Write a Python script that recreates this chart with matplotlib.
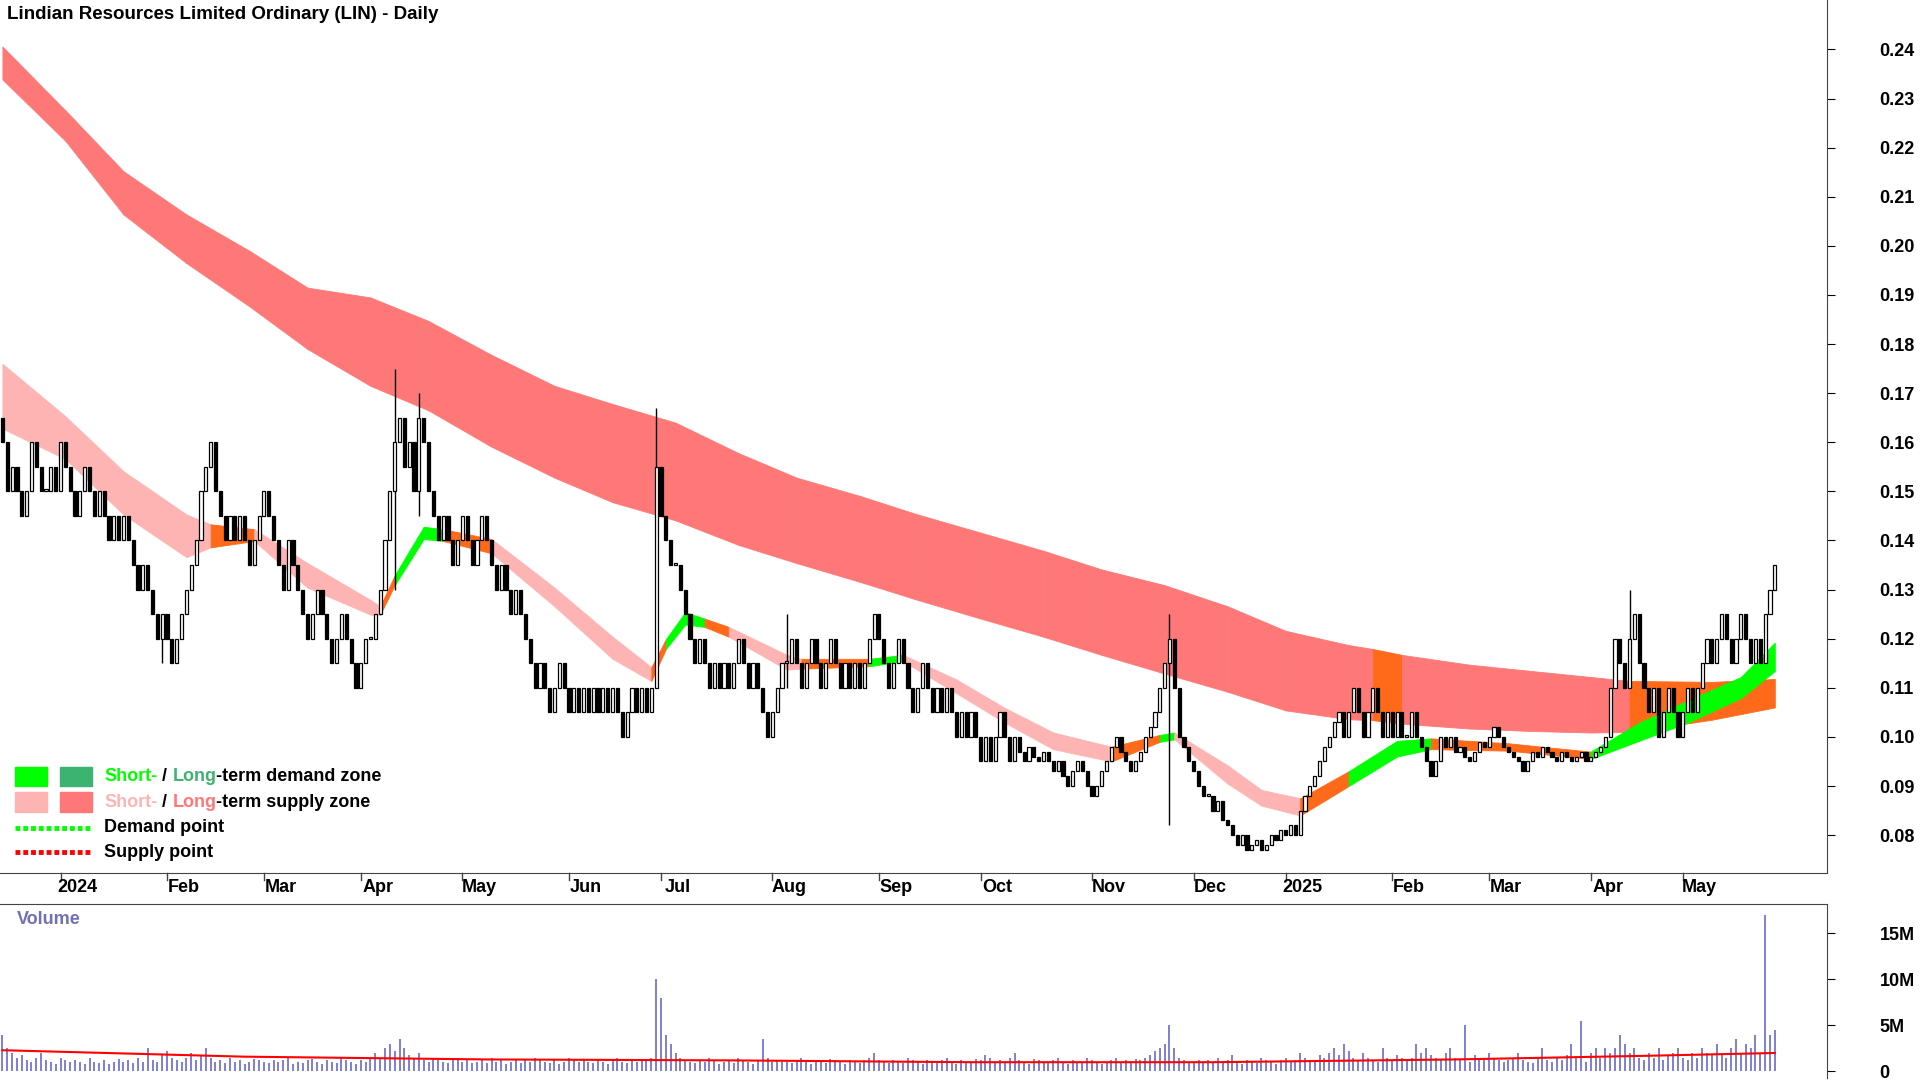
import matplotlib
matplotlib.use("Agg")
import matplotlib.pyplot as plt
import numpy as np

plt.rcParams["font.family"] = "Liberation Sans"

# closes in thousandths of a dollar, one list per month
closes_by_month = [
    [160, 150, 155, 150, 145, 150, 160, 155, 150, 150, 155, 150, 160, 155, 150],
    [145, 150, 155, 150, 145, 150, 145, 140, 145, 140, 145, 140, 135, 130, 135, 130, 125, 120, 125, 120, 115, 120],
    [125, 130, 135, 140, 150, 155, 160, 150, 145, 140, 145, 140, 145, 140, 135, 140, 145, 150, 145, 140],
    [135, 130, 140, 135, 130, 125, 120, 125, 130, 125, 120, 115, 120, 125, 120, 115, 110, 115, 120, 120],
    [125, 130, 140, 150, 160, 165, 155, 160, 150, 165, 160, 150, 145, 140, 145, 140, 135, 140, 145, 140, 135],
    [140, 145, 140, 135, 130, 135, 130, 125, 130, 125, 120, 115, 110, 115, 110, 105, 110, 115, 110, 105, 110, 105],
    [110, 105, 110, 105, 110, 105, 110, 105, 100, 105, 110, 105, 110, 105, 110, 155, 145, 140, 135],
    [135, 130, 125, 120, 115, 120, 115, 110, 115, 110, 115, 110, 115, 120, 115, 110, 115, 110, 105, 100, 105, 110, 115],
    [115, 120, 115, 110, 115, 120, 115, 110, 115, 120, 115, 110, 115, 110, 115, 110, 115, 120, 125, 120, 115, 110],
    [115, 120, 115, 110, 105, 110, 115, 110, 105, 110, 105, 110, 105, 100, 105, 100, 105, 100, 95, 100, 95],
    [100, 105, 100, 95, 100, 97, 95, 98, 96, 95, 97, 95, 93, 95, 92, 90, 93, 95, 93, 90, 88, 90, 93],
    [95, 98, 100, 97, 95, 93, 95, 97, 100, 102, 105, 110, 115, 120, 110, 100, 98, 95, 93, 90, 88],
    [88, 85, 87, 83, 82, 80, 78, 80, 77, 78, 79, 77, 78, 80, 79, 81, 80, 82, 80],
    [85, 88, 90, 92, 95, 98, 100, 103, 105, 100, 105, 110, 105, 100, 105, 110, 105, 100, 105, 100, 105, 100],
    [100, 105, 100, 98, 95, 92, 95, 100, 98, 100, 97, 98, 96, 95, 97, 99, 98, 100, 102, 100],
    [98, 97, 96, 95, 93, 95, 97, 96, 98, 97, 96, 95, 97, 96, 95, 96, 97, 95, 96, 97, 98],
    [100, 110, 120, 115, 110, 120, 125, 115, 110, 105, 110, 100, 105, 110, 105, 100, 105, 110, 105],
    [110, 115, 120, 115, 120, 125, 120, 115, 120, 125, 120, 115, 120, 115, 125, 130, 135],
]
first_open = 165
month_labels = ["2024", "Feb", "Mar", "Apr", "May", "Jun", "Jul", "Aug", "Sep", "Oct", "Nov", "Dec",
                "2025", "Feb", "Mar", "Apr", "May"]

wick_idx = [81, 86, 135, 241, 336, 33, 162]
wick_hi = [0.175, 0.170, 0.167, 0.125, 0.130, 0.125, 0.125]
wick_lo = [0.130, 0.145, 0.125, 0.082, 0.115, 0.115, 0.110]

# volume in units of 100k shares
volume_by_month = [
    [40, 25, 20, 15, 18, 12, 10, 15, 20, 12, 10, 8, 15, 12, 10],
    [12, 10, 8, 15, 10, 9, 12, 8, 10, 14, 10, 12, 9, 15, 10, 25, 12, 10, 18, 22, 15, 12],
    [10, 15, 20, 12, 18, 25, 15, 10, 12, 9, 15, 10, 12, 8, 10, 14, 12, 10, 9, 12],
    [10, 12, 15, 8, 10, 9, 12, 14, 10, 8, 12, 10, 9, 15, 12, 10, 8, 12, 10, 15],
    [20, 15, 25, 30, 22, 35, 25, 18, 15, 20, 12, 10, 15, 12, 10, 9, 12, 15, 10, 12, 9],
    [10, 12, 9, 15, 10, 12, 8, 10, 14, 9, 12, 10, 15, 12, 10, 9, 12, 8, 10, 15, 12, 10],
    [12, 10, 9, 14, 10, 8, 12, 15, 10, 9, 12, 10, 14, 12, 15, 100, 80, 40, 30],
    [20, 15, 12, 10, 9, 12, 10, 15, 12, 8, 10, 12, 9, 15, 12, 10, 8, 12, 35, 15, 10, 12, 10],
    [10, 9, 12, 15, 10, 8, 12, 10, 9, 14, 12, 10, 8, 12, 10, 9, 12, 15, 20, 12, 10, 9],
    [12, 10, 9, 15, 12, 10, 8, 12, 10, 9, 12, 15, 10, 8, 12, 10, 9, 14, 12, 18, 15],
    [10, 12, 9, 15, 20, 12, 10, 8, 14, 12, 10, 9, 12, 15, 10, 8, 12, 10, 9, 15, 12, 10, 8],
    [10, 12, 15, 9, 12, 10, 14, 12, 15, 18, 22, 25, 30, 50, 25, 15, 12, 10, 9, 12, 10],
    [12, 10, 15, 9, 12, 18, 10, 8, 12, 10, 9, 15, 12, 10, 8, 12, 15, 10, 12],
    [20, 15, 12, 10, 18, 15, 20, 25, 18, 30, 22, 15, 12, 20, 15, 12, 10, 25, 15, 12, 18, 15],
    [12, 15, 30, 20, 25, 18, 15, 12, 20, 25, 15, 12, 50, 10, 18, 15, 12, 20, 15, 12],
    [10, 12, 15, 20, 12, 10, 9, 15, 25, 12, 10, 15, 12, 18, 30, 15, 55, 10, 20, 25, 15],
    [25, 20, 25, 40, 30, 20, 25, 15, 12, 20, 15, 25, 12, 18, 20, 25, 15, 12, 20],
    [15, 25, 20, 18, 30, 20, 15, 25, 35, 20, 30, 25, 40, 20, 170, 40, 45],
]
vol_avg_idx = [0, 50, 100, 150, 200, 250, 300, 340, 366]
vol_avg = [2.3, 1.6, 1.3, 1.2, 1.0, 1.0, 1.3, 1.7, 2.0]

# long-term band samples (bar index, upper, lower, segment colour key)
long_idx = [0, 13, 25, 38, 51, 63, 76, 88, 101, 114, 126, 139, 152, 164, 177, 189, 202, 215, 227,
            240, 253, 265, 278, 283, 289, 303, 316, 328, 336, 353, 366]
long_up = [.2406, .2276, .2152, .2064, .1990, .1915, .1895, .1847, .1778, .1715, .1678, .1640, .1578,
           .1528, .1491, .1453, .1416, .1379, .1341, .1309, .1266, .1216, .1187, .1179, .1167, .1147,
           .1134, .1122, .1114, .1112, .1118]
long_lo = [.2339, .2214, .2064, .1965, .1877, .1790, .1715, .1665, .1591, .1528, .1478, .1441, .1391,
           .1354, .1316, .1279, .1241, .1204, .1167, .1129, .1092, .1054, .1036, .1034, .1027, .1017,
           .1012, .1009, .1010, .1035, .1060]
long_state = ["L"] * 23 + ["O"] + ["L"] * 4 + ["O", "O", "O"]

short_idx = [0, 13, 25, 38, 43, 52, 63, 76, 78, 81, 87, 91, 101, 114, 126, 134, 137, 141, 145, 150,
             162, 165, 179, 186, 197, 207, 217, 229, 239, 242, 253, 260, 268, 278, 288, 295, 311,
             328, 338, 348, 359, 366]
short_up = [.1760, .1653, .1541, .1453, .1433, .1423, .1354, .1279, .1266, .1329, .1428, .1423, .1403,
            .1304, .1204, .1142, .1199, .1254, .1241, .1224, .1167, .1159, .1159, .1167, .1117, .1059,
            .1009, .0980, .1004, .1009, .0942, .0892, .0875, .0930, .0992, .0997, .0987, .0970, .1029,
            .1074, .1122, .1192]
short_lo = [.1628, .1566, .1453, .1366, .1386, .1399, .1304, .1249, .1249, .1309, .1403, .1399, .1374,
            .1266, .1159, .1114, .1179, .1229, .1224, .1204, .1137, .1139, .1144, .1154, .1089, .1029,
            .0975, .0950, .0990, .0995, .0905, .0860, .0840, .0900, .0960, .0975, .0972, .0955, .0992,
            .1029, .1079, .1134]
short_state = ["S", "S", "S", "S", "O", "S", "S", "S", "O", "G", "G", "O", "S", "S", "S", "O", "G", "G",
               "O", "S", "S", "O", "G", "S", "S", "S", "S", "O", "G", "S", "S", "S", "O", "G", "G", "O",
               "O", "G", "G", "G", "G"]

COLORS = {"L": "#FF7878", "S": "#FFB4B4", "O": "#FF6A1A", "G": "#00FF00"}

closes = np.array([c for m in closes_by_month for c in m]) / 1000.0
volume = np.array([v for m in volume_by_month for v in m]) / 10.0
n = len(closes)
x = np.arange(n)
opens = np.concatenate([[first_open / 1000.0], closes[:-1]])
highs = np.maximum(opens, closes)
lows = np.minimum(opens, closes)
for i, h, l in zip(wick_idx, wick_hi, wick_lo):
    highs[i] = max(highs[i], h)
    lows[i] = min(lows[i], l)
month_pos = np.cumsum([0] + [len(m) for m in closes_by_month])[1:-1]

fig = plt.figure(figsize=(19.2, 10.8), dpi=100)
W, H = 1568.0, 882.0
ax = fig.add_axes([0, 1 - 713 / H, 1492 / W, 713 / H])
axv = fig.add_axes([0, 1 - 880 / H, 1492 / W, (880 - 738) / H])


def draw_band(idx, up, lo, state):
    for k in range(len(idx) - 1):
        col = COLORS[state[k]]
        ax.fill_between([idx[k], idx[k + 1]], [up[k], up[k + 1]], [lo[k], lo[k + 1]],
                        facecolor=col, edgecolor=col, lw=0.6, zorder=1)


draw_band(long_idx, long_up, long_lo, long_state)
draw_band(short_idx, short_up, short_lo, short_state)

# candles
up = closes >= opens
body_lo = np.minimum(opens, closes)
body_h = np.maximum(np.abs(closes - opens), 0.0004)
ax.vlines(x, lows, highs, color="black", lw=1.0, zorder=2)
ax.bar(x[up], body_h[up], bottom=body_lo[up], width=0.65,
       facecolor="white", edgecolor="black", lw=0.9, zorder=3)
ax.bar(x[~up], body_h[~up], bottom=body_lo[~up], width=0.65,
       facecolor="black", edgecolor="black", lw=0.9, zorder=3)

ax.set_xlim(-0.5, 1492 / 3.96)
ax.set_ylim(0.08 - 31 / 4010, 0.08 + 682 / 4010)
ax.yaxis.tick_right()
ticks = np.arange(0.08, 0.2401, 0.01)
ax.set_yticks(ticks)
ax.set_yticklabels([f"{v:.2f}" for v in ticks], fontsize=13, fontweight="bold")
ax.tick_params(axis="y", length=6, pad=32, direction="out")
ax.set_xticks([])
for s in ["top", "left"]:
    ax.spines[s].set_visible(False)
ax.spines["bottom"].set_color("#444444")
ax.spines["right"].set_color("#444444")
for p, lab in zip(month_pos, month_labels):
    ax.text(p + 0.5, 0.08 - 43 / 4010, lab, ha="center", va="center", fontsize=13,
            fontweight="bold", clip_on=False)
    ax.plot([p - 3, p - 3], [0.08 - 31 / 4010, 0.08 - 37 / 4010], color="#444444", lw=1, clip_on=False)

ax.text(1, 0.2501 - 12 / 4010, "Lindian Resources Limited Ordinary (LIN) - Daily", ha="left", va="center",
        fontsize=13.5, fontweight="bold")

# legend
fig.canvas.draw()
renderer = fig.canvas.get_renderer()


def legend_row(y, items, squares=None, dotted=None):
    yf = 1 - y / H
    if squares:
        for xs, col in zip([12, 49], squares):
            fig.patches.append(plt.Rectangle((xs / W, yf - 8 / H), 26 / W, 16 / H, color=col,
                                             transform=fig.transFigure))
    if dotted:
        fig.add_artist(plt.Line2D([12 / W, 75 / W], [yf, yf], color=dotted, lw=3.5, ls=(0, (1, 0.6))))
    xpos = 85 / W
    for txt, col in items:
        t = fig.text(xpos, yf, txt, color=col, fontsize=13, fontweight="bold", va="center", ha="left")
        bb = t.get_window_extent(renderer)
        xpos += bb.width / fig.bbox.width


legend_row(634, [("Short-", "#00FF00"), (" / ", "black"), ("Long", "#3CB371"), ("-term demand zone", "black")],
           squares=["#00FF00", "#3CB371"])
legend_row(655, [("Short-", "#FFB4B4"), (" / ", "black"), ("Long", "#FF7878"), ("-term supply zone", "black")],
           squares=["#FFB4B4", "#FF7878"])
legend_row(676, [("Demand point", "black")], dotted="#00FF00")
legend_row(696, [("Supply point", "black")], dotted="#FF0000")

# volume
axv.vlines(x, 0, volume, color="#6A6ACD", lw=1.2)
axv.plot(vol_avg_idx, vol_avg, color="#FF0000", lw=1.5)
axv.set_xlim(ax.get_xlim())
axv.set_ylim(-5 / 7.53, 137 / 7.53)
axv.yaxis.tick_right()
axv.set_yticks([0, 5, 10, 15])
axv.set_yticklabels(["0", "5M", "10M", "15M"], fontsize=13, fontweight="bold")
axv.tick_params(axis="y", length=6, pad=32)
axv.set_xticks([])
for s in ["bottom", "left"]:
    axv.spines[s].set_visible(False)
axv.spines["top"].set_color("#444444")
axv.spines["right"].set_color("#444444")
axv.text(3, 137 / 7.53 - 13 / 7.53, "Volume", color="#7070B8", fontsize=13, fontweight="bold",
         ha="left", va="center")

fig.savefig("out.png", dpi=100)
